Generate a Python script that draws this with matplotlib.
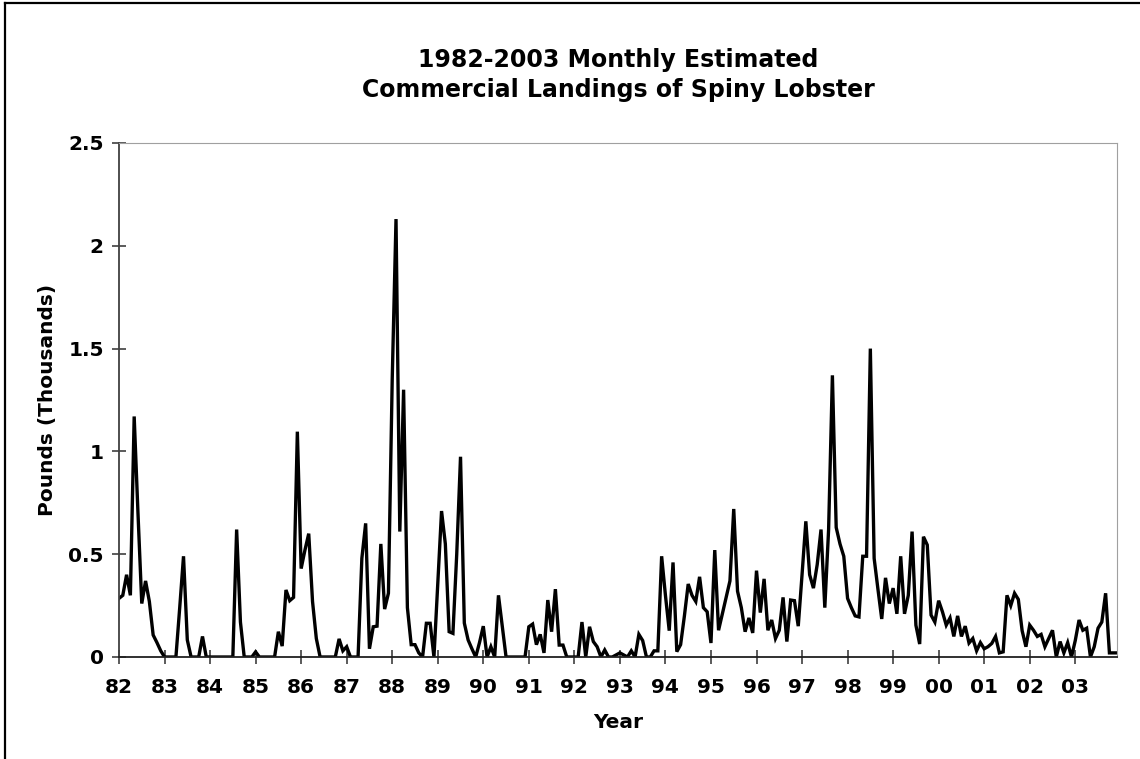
import numpy as np
import matplotlib
matplotlib.use('Agg')
import matplotlib.pyplot as plt
from matplotlib.lines import Line2D

# monthly landings, thousands of pounds, Jan 1982 .. Dec 2003
y1982 = [0.285, 0.30, 0.40, 0.30, 1.17, 0.70, 0.26, 0.37, 0.27, 0.107, 0.07, 0.03]
y1983 = [0.0, 0.0, 0.0, 0.0, 0.24, 0.49, 0.083, 0.0, 0.0, 0.0, 0.10, 0.0]
y1984 = [0.0, 0.0, 0.0, 0.0, 0.0, 0.0, 0.0, 0.62, 0.17, 0.0, 0.0, 0.0]
y1985 = [0.025, 0.0, 0.0, 0.0, 0.0, 0.0, 0.123, 0.053, 0.326, 0.274, 0.29, 1.096]
y1986 = [0.43, 0.52, 0.60, 0.27, 0.09, 0.0, 0.0, 0.0, 0.0, 0.0, 0.088, 0.03]
y1987 = [0.05, 0.0, 0.0, 0.0, 0.48, 0.65, 0.04, 0.147, 0.15, 0.55, 0.233, 0.31]
y1988 = [1.35, 2.13, 0.61, 1.30, 0.24, 0.06, 0.06, 0.02, 0.0, 0.164, 0.164, 0.0]
y1989 = [0.35, 0.71, 0.55, 0.123, 0.115, 0.5, 0.974, 0.165, 0.083, 0.04, 0.0, 0.07]
y1990 = [0.15, 0.0, 0.05, 0.0, 0.30, 0.15, 0.0, 0.0, 0.0, 0.0, 0.0, 0.0]
y1991 = [0.147, 0.16, 0.06, 0.11, 0.02, 0.277, 0.123, 0.33, 0.058, 0.058, 0.0, 0.0]
y1992 = [0.0, 0.0, 0.17, 0.0, 0.147, 0.075, 0.05, 0.0, 0.034, 0.0, 0.0, 0.01]
y1993 = [0.02, 0.01, 0.0, 0.03, 0.0, 0.11, 0.08, 0.0, 0.0, 0.03, 0.03, 0.49]
y1994 = [0.30, 0.128, 0.46, 0.026, 0.06, 0.20, 0.355, 0.30, 0.27, 0.39, 0.24, 0.22]
y1995 = [0.068, 0.52, 0.13, 0.21, 0.29, 0.37, 0.72, 0.32, 0.24, 0.123, 0.19, 0.117]
y1996 = [0.42, 0.216, 0.38, 0.13, 0.18, 0.09, 0.13, 0.29, 0.075, 0.277, 0.274, 0.15]
y1997 = [0.40, 0.66, 0.40, 0.335, 0.45, 0.62, 0.24, 0.62, 1.37, 0.63, 0.55, 0.49]
y1998 = [0.285, 0.24, 0.20, 0.195, 0.49, 0.49, 1.50, 0.48, 0.33, 0.185, 0.385, 0.26]
y1999 = [0.335, 0.21, 0.49, 0.21, 0.30, 0.61, 0.155, 0.063, 0.585, 0.545, 0.204, 0.17]
y2000 = [0.274, 0.22, 0.155, 0.19, 0.10, 0.20, 0.10, 0.15, 0.068, 0.09, 0.03, 0.07]
y2001 = [0.04, 0.05, 0.066, 0.10, 0.02, 0.025, 0.30, 0.25, 0.31, 0.28, 0.128, 0.05]
y2002 = [0.155, 0.13, 0.10, 0.11, 0.05, 0.09, 0.13, 0.0, 0.075, 0.02, 0.07, 0.0]
y2003 = [0.08, 0.18, 0.13, 0.14, 0.0, 0.05, 0.14, 0.17, 0.31, 0.02, 0.02, 0.02]

years = [y1982, y1983, y1984, y1985, y1986, y1987, y1988, y1989, y1990, y1991, y1992,
         y1993, y1994, y1995, y1996, y1997, y1998, y1999, y2000, y2001, y2002, y2003]
year_labels = ['82', '83', '84', '85', '86', '87', '88', '89', '90', '91', '92',
               '93', '94', '95', '96', '97', '98', '99', '00', '01', '02', '03']
y_ticks = [0, 0.5, 1, 1.5, 2, 2.5]
y_tick_labels = ['0', '0.5', '1', '1.5', '2', '2.5']

landings = np.concatenate(years)
months = np.arange(len(landings))

fig = plt.figure(figsize=(11.4, 7.59), dpi=100)
ax = fig.add_axes([119 / 1140, 1 - 657 / 759, (1117 - 119) / 1140, (657 - 143) / 759])

ax.plot(months, landings, color='black', lw=2.4, solid_joinstyle='miter')

ax.set_xlim(0, len(landings) - 1)
ax.set_ylim(0, 2.5)
ax.set_xticks(np.arange(0, len(landings), 12))
ax.set_xticklabels(year_labels)
ax.set_yticks(y_ticks)
ax.set_yticklabels(y_tick_labels)

for lab in ax.get_xticklabels() + ax.get_yticklabels():
    lab.set_fontweight('bold')
    lab.set_fontsize(14.5)

ax.tick_params(axis='both', direction='inout', length=10, width=1.2, color='#404040')
ax.tick_params(axis='x', pad=10)
ax.tick_params(axis='y', pad=6)

ax.spines['left'].set_color('#404040')
ax.spines['left'].set_linewidth(1.3)
ax.spines['bottom'].set_color('#202020')
ax.spines['bottom'].set_linewidth(1.3)
ax.spines['top'].set_color('#a0a0a0')
ax.spines['right'].set_color('#a0a0a0')

ax.set_ylabel('Pounds (Thousands)', fontsize=14.5, fontweight='bold', labelpad=8)
ax.set_xlabel('Year', fontsize=14.5, fontweight='bold', labelpad=12)

fig.text(618 / 1140, 1 - 75 / 759, '1982-2003 Monthly Estimated\nCommercial Landings of Spiny Lobster',
         ha='center', va='center', fontsize=17, fontweight='bold', linespacing=1.35)

# outer chart border (left and top edges)
fig.add_artist(Line2D([5 / 1140, 5 / 1140], [0, 1 - 3 / 759], transform=fig.transFigure,
                      color='black', lw=1.6))
fig.add_artist(Line2D([5 / 1140, 1], [1 - 3 / 759, 1 - 3 / 759], transform=fig.transFigure,
                      color='black', lw=1.6))

fig.savefig('out.png', dpi=100)
